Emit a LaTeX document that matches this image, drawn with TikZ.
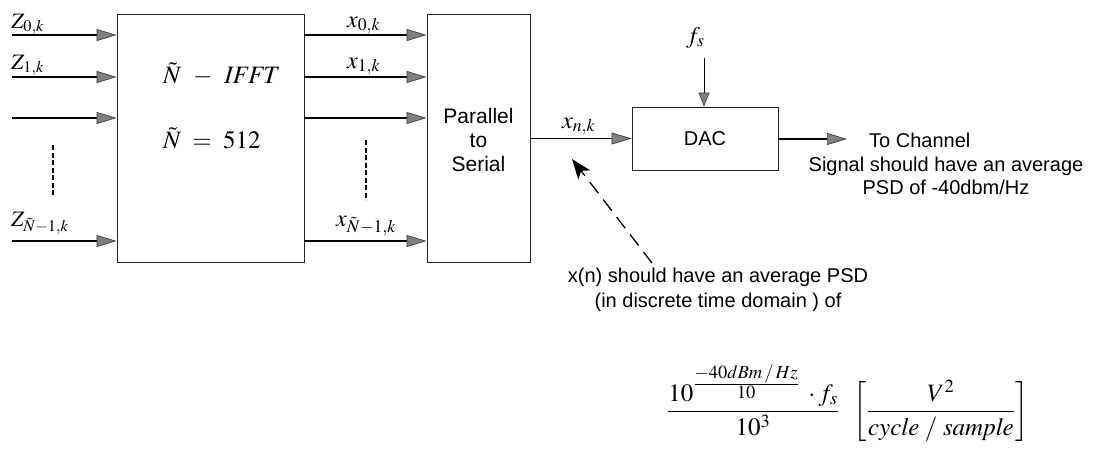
\documentclass[tikz,border=0pt]{standalone}
\usepackage{mathptmx}
\usepackage[no-math]{fontspec}
\setmainfont{Liberation Sans}
\usetikzlibrary{arrows.meta}
\tikzset{
  blk/.style={draw=black!85, line width=0.9pt, inner sep=0pt},
  arr/.style={line width=1.2pt, -{Triangle[length=20pt,width=12pt,color=black!75,fill=black!50,line width=0.7pt]}},
  thinarr/.style={line width=1pt, -{Triangle[length=14pt,width=11pt,color=black!75,fill=black!50,line width=0.7pt]}},
  vdots/.style={line width=2.4pt, dash pattern=on 5pt off 2.5pt},
  lbl/.style={inner sep=0pt, font=\fontsize{22}{26}\selectfont},
  bigm/.style={inner sep=0pt, font=\fontsize{25}{30}\selectfont},
  txt/.style={inner sep=0pt, font=\fontsize{20}{22.5}\selectfont, align=center},
}
\begin{document}
\begin{tikzpicture}[x=1pt,y=-1pt]
\useasboundingbox (0,0) rectangle (1106,450);
% blocks
\node[blk, minimum width=187pt, minimum height=248pt] (ifft) at (210.5,138) {};
\node[blk, minimum width=103pt, minimum height=248pt] (ps) at (478.5,138) {};
\node[blk, minimum width=146pt, minimum height=63pt] (dac) at (705,138.5) {};
% block texts
\node[bigm, anchor=base west] (t1) at (163,83) {$\tilde{N}\;\,-\,\;\mathit{IFFT}$};
\node[bigm, anchor=base west] (t2) at (163,148) {$\tilde{N}\;=\;512$};
\node[txt, font=\fontsize{21}{24}\selectfont] (pst) at (478.5,140) {Parallel\\to\\Serial};
\node[txt] (dact) at (dac.center) {DAC};
% inputs
\coordinate (i0) at (12,35);
\coordinate (i1) at (12,77);
\coordinate (i2) at (12,118);
\coordinate (i3) at (12,241);
\draw[arr] (i0) -- (i0 -| ifft.west);
\draw[arr] (i1) -- (i1 -| ifft.west);
\draw[arr] (i2) -- (i2 -| ifft.west);
\draw[arr] (i3) -- (i3 -| ifft.west);
\node[lbl, anchor=base west] (z0) at (11,28) {$Z_{0,k}$};
\node[lbl, anchor=base west] (z1) at (11,69) {$Z_{1,k}$};
\node[lbl, anchor=base west] (z3) at (11,226) {$Z_{\tilde{N}-1,k}$};
\coordinate (d1a) at (53,145);
\coordinate (d1b) at (53,197);
\draw[vdots] (d1a) -- (d1b);
% outputs
\coordinate (o0) at (304,35);
\coordinate (o1) at (304,77);
\coordinate (o2) at (304,118);
\coordinate (o3) at (304,241);
\draw[arr] (o0) -- (o0 -| ps.west);
\draw[arr] (o1) -- (o1 -| ps.west);
\draw[arr] (o2) -- (o2 -| ps.west);
\draw[arr] (o3) -- (o3 -| ps.west);
\node[lbl, anchor=base west, font=\fontsize{24}{28}\selectfont] (x0) at (347,27) {$x_{0,k}$};
\node[lbl, anchor=base west, font=\fontsize{24}{28}\selectfont] (x1) at (347,68) {$x_{1,k}$};
\node[lbl, anchor=base west, font=\fontsize{24}{28}\selectfont] (x3) at (336,226) {$x_{\tilde{N}-1,k}$};
\coordinate (d2a) at (366,140);
\coordinate (d2b) at (366,200);
\draw[vdots] (d2a) -- (d2b);
% serial
\draw[arr] (ps.east |- dac.west) -- (dac.west);
\node[lbl, anchor=base west, font=\fontsize{24}{28}\selectfont] (xn) at (562,128) {$x_{n,k}$};
% fs
\node[lbl, anchor=base west, font=\fontsize{24}{28}\selectfont] (fs) at (686,43) {$f_s$};
\coordinate (fsa) at (704,58);
\draw[thinarr] (fsa) -- (fsa |- dac.north);
% channel
\coordinate (ch) at (847,139);
\draw[arr] (dac.east |- ch) -- (ch);
\node[txt, anchor=west] (tc) at (869,140) {To Channel};
\node[txt] (sig) at (946,176) {Signal should have an average\\PSD of -40dbm/Hz};
% dashed annotation
\coordinate (dtail) at (652,263);
\coordinate (dtip) at (572,159);
\draw[line width=1.3pt, dash pattern=on 14pt off 8pt, -{Stealth[length=20pt,width=15pt,inset=5pt]}] (dtail) -- (dtip);
\node[txt, font=\fontsize{20}{25}\selectfont] (xnote) at (718,290) {x(n) should have an average PSD\\(in discrete time domain ) of};
% formula
\node[inner sep=0pt, anchor=base west, font=\fontsize{25}{30}\selectfont] (form) at (667,418)
  {$\displaystyle \frac{10^{\frac{\scriptstyle -40dBm\,/\,Hz}{\scriptstyle 10}}\;\cdot f_s}{10^3}\hspace{12pt}\left[\frac{V^2}{\mathit{cycle}\;/\;\mathit{sample}}\right]$};
\end{tikzpicture}
\end{document}
